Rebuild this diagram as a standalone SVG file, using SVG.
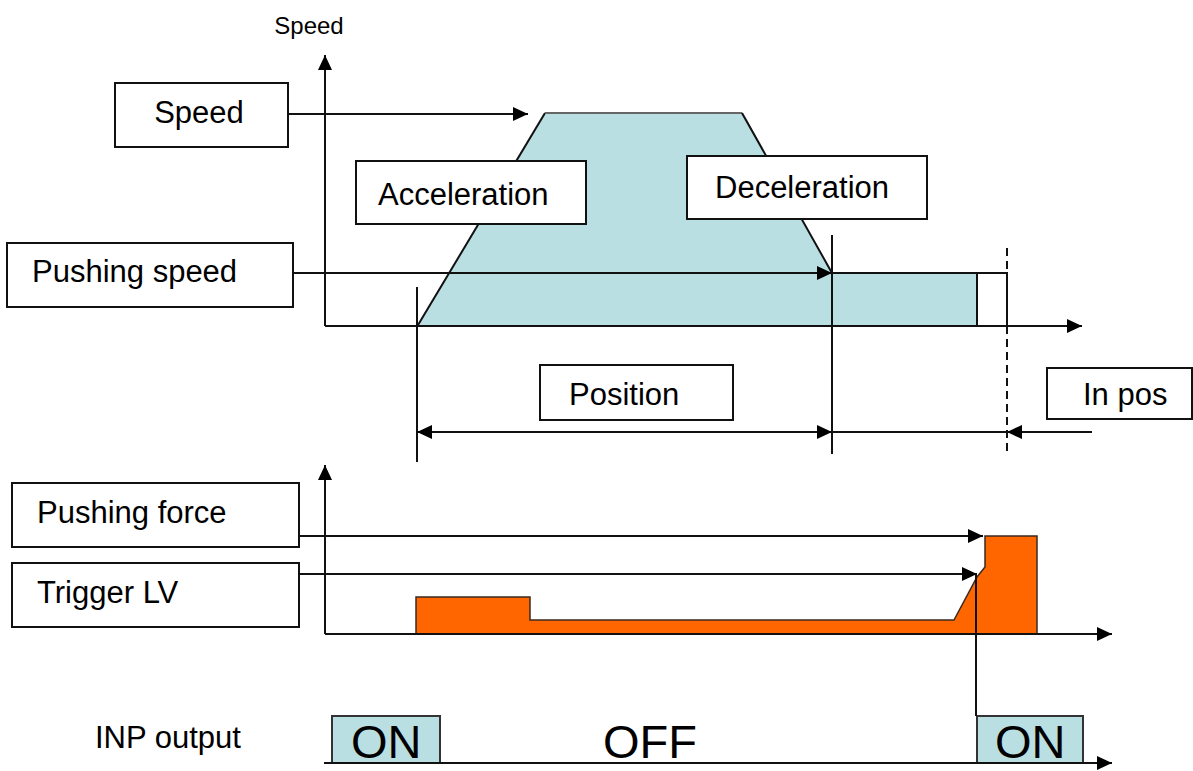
<svg xmlns="http://www.w3.org/2000/svg" width="1193" height="771" viewBox="0 0 1193 771">
<style>
.box{fill:#fff;stroke:#111;stroke-width:2}
.ln{fill:none;stroke:#111;stroke-width:2}
.t{font-family:"Liberation Sans",Arial,sans-serif;font-size:31px;fill:#000}
.big{font-family:"Liberation Sans",Arial,sans-serif;font-size:47px;fill:#000}
</style>
<defs>
<marker id="ah" markerUnits="userSpaceOnUse" markerWidth="15" markerHeight="14" refX="15" refY="7" orient="auto-start-reverse">
<path d="M0,0 L15,7 L0,14 z" fill="#000"/>
</marker>
</defs>
<rect width="1193" height="771" fill="#fff"/>

<g id="speed-profile">
<polygon points="418,325 545,113 742,113 832,273 977,273 977,325" fill="#b9dfe2"/>
<polyline points="418,325 545,113" class="ln" stroke-width="1.5"/>
<line x1="545" y1="113" x2="742" y2="113" stroke="#666" stroke-width="2"/>
<polyline points="742,113 832,273" class="ln" stroke-width="1.5"/>
<polyline points="832,273 1007,273 1007,325" class="ln"/>
<line x1="977" y1="273" x2="977" y2="325" class="ln"/>
</g>

<g id="force-profile">
<polygon points="416,634 416,597 530,597 530,620 954,620 977,577 985,567 985,536 1037,536 1037,634" fill="#ff6600" stroke="#3a2a20" stroke-width="1.5"/>
</g>

<g id="inp-on1">
<rect x="332" y="716" width="108" height="47" fill="#b9dfe2" stroke="#333" stroke-width="2"/>
<text x="351" y="758" class="big">ON</text>
</g>
<g id="inp-on2">
<rect x="977" y="716" width="106" height="47" fill="#b9dfe2" stroke="#333" stroke-width="2"/>
<text x="995" y="758" class="big">ON</text>
</g>
<g id="inp-off">
<text x="603" y="758" class="big">OFF</text>
</g>

<g id="connectors">
<line x1="325" y1="326" x2="325" y2="55" class="ln" marker-end="url(#ah)"/>
<line x1="325" y1="326" x2="1082" y2="326" class="ln" marker-end="url(#ah)"/>
<line x1="325" y1="634" x2="325" y2="465" class="ln" marker-end="url(#ah)"/>
<line x1="325" y1="634" x2="1112" y2="634" class="ln" marker-end="url(#ah)"/>
<line x1="324" y1="763" x2="1112" y2="763" class="ln" marker-end="url(#ah)"/>
<line x1="288" y1="114" x2="528" y2="114" class="ln" marker-end="url(#ah)"/>
<line x1="288" y1="273" x2="832" y2="273" class="ln" marker-end="url(#ah)"/>
<line x1="417" y1="287" x2="417" y2="462" class="ln"/>
<line x1="832" y1="235" x2="832" y2="454" class="ln"/>
<line x1="1007" y1="248" x2="1007" y2="455" class="ln" stroke-dasharray="8,5"/>
<line x1="417" y1="432" x2="832" y2="432" class="ln" marker-start="url(#ah)" marker-end="url(#ah)"/>
<line x1="832" y1="432" x2="1007" y2="432" class="ln"/>
<line x1="1092" y1="432" x2="1007" y2="432" class="ln" marker-end="url(#ah)"/>
<line x1="295" y1="536" x2="983" y2="536" class="ln" marker-end="url(#ah)"/>
<line x1="295" y1="574" x2="977" y2="574" class="ln" marker-end="url(#ah)"/>
<line x1="976" y1="574" x2="976" y2="716" class="ln"/>
</g>

<g id="axis-title">
<text x="309" y="34" class="t" font-size="24" text-anchor="middle" style="font-size:24px">Speed</text>
</g>
<g id="box-speed">
<rect x="115" y="83" width="173" height="64" class="box"/>
<text x="199" y="123" class="t" text-anchor="middle">Speed</text>
</g>
<g id="box-acceleration">
<rect x="356" y="161" width="230" height="63" class="box"/>
<text x="378" y="205" class="t">Acceleration</text>
</g>
<g id="box-deceleration">
<rect x="687" y="156" width="240" height="63" class="box"/>
<text x="715" y="198" class="t">Deceleration</text>
</g>
<g id="box-pushing-speed">
<rect x="7" y="243" width="286" height="64" class="box"/>
<text x="32" y="282" class="t">Pushing speed</text>
</g>
<g id="box-position">
<rect x="540" y="365" width="193" height="55" class="box"/>
<text x="569" y="405" class="t">Position</text>
</g>
<g id="box-in-pos">
<rect x="1047" y="368" width="145" height="51" class="box"/>
<text x="1083" y="405" class="t">In pos</text>
</g>
<g id="box-pushing-force">
<rect x="12" y="483" width="287" height="64" class="box"/>
<text x="37" y="523" class="t">Pushing force</text>
</g>
<g id="box-trigger-lv">
<rect x="12" y="563" width="287" height="64" class="box"/>
<text x="37" y="603" class="t">Trigger LV</text>
</g>
<g id="label-inp">
<text x="95" y="748" class="t">INP output</text>
</g>
</svg>
